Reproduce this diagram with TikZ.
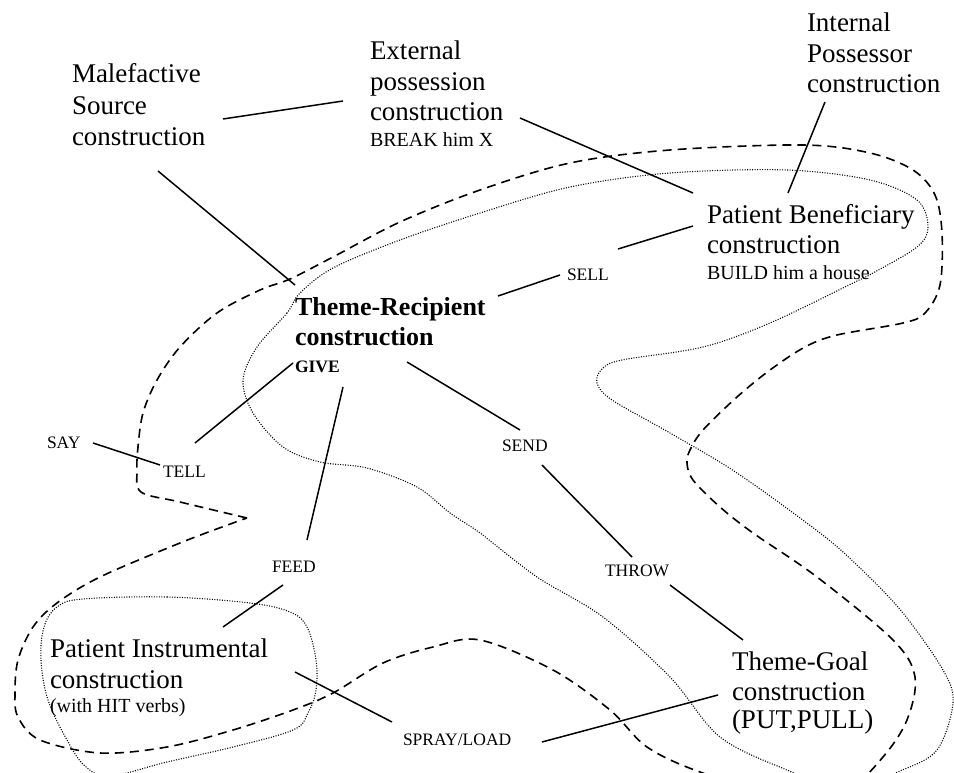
\documentclass[tikz,border=0pt]{standalone}
\usepackage{fontspec}
\setmainfont{Liberation Serif}
\newcommand\bigf{\fontsize{27}{31}\selectfont}
\newcommand\smallf{\fontsize{20}{25}\selectfont}
\newcommand\verbf{\fontsize{17.5}{21}\selectfont}
\newcommand\trf{\fontsize{26}{30}\selectfont}
\begin{document}
\begin{tikzpicture}[x=1pt,y=-1pt,
  txt/.style={anchor=base west,inner sep=0pt,outer sep=0pt},
  verb/.style={txt,font=\verbf},
  link/.style={line width=1.5pt},
  dashline/.style={line width=1.6pt,dash pattern=on 9pt off 6pt},
  dotline/.style={line width=1.1pt,dash pattern=on 1pt off 1.5pt}]
\useasboundingbox (0,0) rectangle (954,773);
\begin{scope}
\clip (0,0) rectangle (954,773);
% large dashed region
\draw[dashline] plot[smooth,tension=0.55] coordinates {
 (247,518) (180,502) (141,492) (137,470) (138,447) (143,413) (157,380) (180,347)
 (217,313) (260,290) (290,279) (333,257) (400,222) (480,190) (570,163) (670,150)
 (803,145) (870,153) (913,170) (935,195) (942,233) (940,285) (925,313) (903,323)
 (837,335) (805,347) (770,370) (737,397) (703,430) (690,450) (687,463) (693,480)
 (720,507) (753,533) (817,577) (893,640) (915,677) (907,720) (883,757) (850,785)
 (780,795) (700,772) (647,747) (610,710) (553,670) (480,640) (433,647) (383,663)
 (333,693) (293,710) (233,730) (167,747) (100,753) (40,740) (18,717) (15,693)
 (18,660) (33,627) (57,603) (100,577) (180,543) (233,523) (247,518)};
% large dotted region
\draw[dotline] plot[smooth cycle,tension=0.55] coordinates {
 (300,293) (287,313) (257,347) (243,380) (253,413) (283,447) (320,462) (367,468)
 (417,487) (450,513) (480,533) (537,577) (603,617) (670,677) (720,737) (787,770)
 (845,790) (900,771) (937,750) (953,703) (943,670) (903,613) (860,568) (820,533)
 (737,473) (670,433) (612,400) (597,383) (602,369) (622,360) (703,347) (770,323)
 (853,283) (873,273) (917,247) (928,227) (917,200) (870,180) (787,170) (670,173)
 (570,187) (480,213) (400,240) (333,268)};
% small dotted region
\draw[dotline] plot[smooth cycle,tension=0.6] coordinates {
 (83,599) (167,597) (250,603) (290,612) (307,627) (316,660) (316,690) (308,713)
 (293,730) (233,747) (167,762) (110,776) (85,766) (67,740) (48,700) (41,660)
 (44,627) (57,607)};
\end{scope}

% construction labels
\node[txt] (mal) at (72,83) {\vtop{\bigf\baselineskip=31.5pt\hbox{Malefactive}\hbox{Source}\hbox{construction}}};
\node[txt] (ext) at (370,60) {\vtop{\bigf\hbox{External}\hbox{possession}\baselineskip=30pt\hbox{construction}\smallf\baselineskip=26pt\hbox{BREAK him X}}};
\node[txt] (int) at (807,32) {\vtop{\bigf\baselineskip=30.5pt\hbox{Internal}\hbox{Possessor}\hbox{construction}}};
\node[txt] (pb) at (707,223) {\vtop{\bigf\hbox{Patient Beneficiary}\hbox{construction}\smallf\baselineskip=25pt\hbox{BUILD him a house}}};
\node[txt] (tr) at (295,315) {\vtop{\bfseries\trf\hbox{Theme-Recipient}\hbox{construction}\verbf\bfseries\baselineskip=28pt\hbox{GIVE}}};
\node[txt] (pi) at (50,657) {\vtop{\bigf\hbox{Patient Instrumental}\hbox{construction}\smallf\baselineskip=24pt\hbox{(with HIT verbs)}}};
\node[txt] (tg) at (732,670) {\vtop{\bigf\baselineskip=30pt\hbox{Theme-Goal}\hbox{construction}\baselineskip=28pt\hbox{(PUT,PULL)}}};

% verb labels
\node[verb] (sell) at (567,280) {SELL};
\node[verb] (say) at (47,448) {SAY};
\node[verb] (tell) at (163,477) {TELL};
\node[verb] (feed) at (272,572) {FEED};
\node[verb] (send) at (502,451) {SEND};
\node[verb] (throw) at (605,576) {THROW};
\node[verb] (spray) at (403,745) {SPRAY/LOAD};

% connector end points
\coordinate (malR) at (223,119);  \coordinate (extL) at (343,101);
\coordinate (malB) at (158,171);  \coordinate (trT) at (295,285);
\coordinate (extR) at (520,118);  \coordinate (pbT) at (693,193);
\coordinate (intB) at (825,102);  \coordinate (pbT2) at (788,193);
\coordinate (pbL) at (693,226);   \coordinate (sellR) at (618,249);
\coordinate (sellL) at (560,275); \coordinate (trR) at (498,296);
\coordinate (trB) at (407,362);   \coordinate (sendT) at (520,430);
\coordinate (sendB) at (542,465); \coordinate (throwT) at (632,557);
\coordinate (throwB) at (670,585);\coordinate (tgT) at (743,640);
\coordinate (trL) at (293,363);   \coordinate (tellT) at (195,443);
\coordinate (sayR) at (93,443);   \coordinate (tellL) at (160,465);
\coordinate (trB2) at (343,387);  \coordinate (feedT) at (307,540);
\coordinate (feedB) at (283,585); \coordinate (piT) at (223,627);
\coordinate (piR) at (295,672);   \coordinate (sprayT) at (392,722);
\coordinate (sprayR) at (542,742);\coordinate (tgL) at (718,695);

\draw[link] (malR) -- (extL);
\draw[link] (malB) -- (trT);
\draw[link] (extR) -- (pbT);
\draw[link] (intB) -- (pbT2);
\draw[link] (pbL) -- (sellR);
\draw[link] (sellL) -- (trR);
\draw[link] (trB) -- (sendT);
\draw[link] (sendB) -- (throwT);
\draw[link] (throwB) -- (tgT);
\draw[link] (trL) -- (tellT);
\draw[link] (sayR) -- (tellL);
\draw[link] (trB2) -- (feedT);
\draw[link] (feedB) -- (piT);
\draw[link] (piR) -- (sprayT);
\draw[link] (sprayR) -- (tgL);
\end{tikzpicture}
\end{document}
